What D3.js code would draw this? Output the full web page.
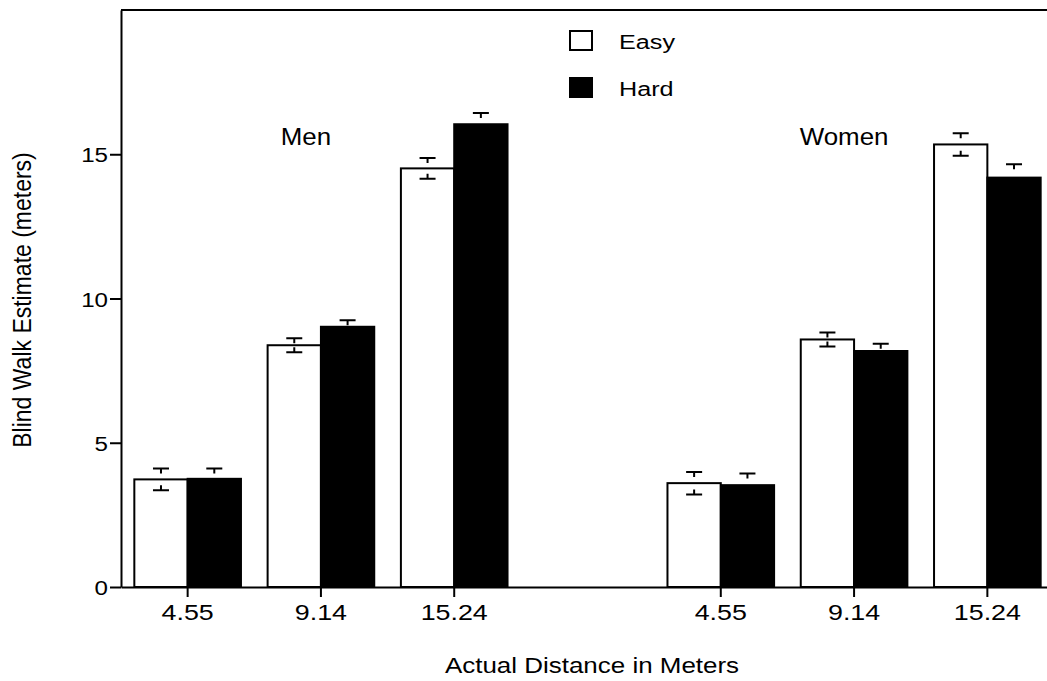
<!DOCTYPE html>
<html>
<head>
<meta charset="utf-8">
<script src="https://cdn.jsdelivr.net/npm/d3@7"></script>
<style>
body { margin: 0; background: #fff; }
svg { display: block; }
text { font-family: "Liberation Sans", Arial, Helvetica, sans-serif; fill: #000; }
</style>
</head>
<body>
<div id="chart"></div>
<script>
"use strict";

// data (men first, then women)
const groups = ["Men", "Women"];
const distances = ["4.55", "9.14", "15.24"];
const conditions = ["Easy", "Hard"];
const easyMeans  = [3.73, 8.38, 14.51, 3.60, 8.58, 15.34];
const easyErrors = [0.38, 0.24, 0.36, 0.39, 0.24, 0.39];
const hardMeans  = [3.75, 9.02, 16.04, 3.53, 8.18, 14.19];
const hardErrors = [0.36, 0.23, 0.39, 0.40, 0.25, 0.46];
const yTicks = [0, 5, 10, 15];

const margin = {
    top   : 10,
    right : 0,
    bottom: 94,
    left  : 121
};
const svgWidth = 1047;
const svgHeight = 681;
const height = svgHeight - margin.top - margin.bottom;
const width = 933; // plot runs past the right edge of the picture

const slotOf = i => i < 3 ? i : i + 1;   // empty slot between the groups
const rows = d3.range(easyMeans.length).map(i => ({
    slot    : slotOf(i),
    group   : groups[Math.floor(i / 3)],
    distance: distances[i % 3],
    Easy    : { mean: easyMeans[i], err: easyErrors[i] },
    Hard    : { mean: hardMeans[i], err: hardErrors[i] }
}));

const xScale = d3.scaleBand()
                 .domain(d3.range(7))
                 .range([0, width])
                 .paddingInner(0.2)
                 .paddingOuter(0.1);
const condScale = d3.scaleBand()
                    .domain(conditions)
                    .range([0, xScale.bandwidth()]);
const yScale = d3.scaleLinear()
                 .domain([0, 20])
                 .range([height, 0]);
const fill = { Easy: "#fff", Hard: "#000" };

const svg = d3.select("#chart").append("svg")
              .attr("width", svgWidth)
              .attr("height", svgHeight);
const plot = svg.append("g")
                .attr("transform", `translate(${margin.left}, ${margin.top})`);

// bars
const bars = rows.flatMap(r => conditions.map(c => ({
    x   : xScale(r.slot) + condScale(c),
    cond: c,
    mean: r[c].mean,
    err : r[c].err
})));

plot.selectAll("rect.bar")
    .data(bars)
    .join("rect")
    .attr("class", "bar")
    .attr("x", d => d.x)
    .attr("y", d => yScale(d.mean))
    .attr("width", condScale.bandwidth())
    .attr("height", d => yScale(0) - yScale(d.mean))
    .attr("fill", d => fill[d.cond])
    .attr("stroke", "#000")
    .attr("stroke-width", 2);

// error bars: little T marks above and below the mean
const capHalf = 8;
const stem = 5;
const caps = bars.flatMap(d => [
    { cx: d.x + condScale.bandwidth() / 2, y: yScale(d.mean + d.err), dir: 1 },
    { cx: d.x + condScale.bandwidth() / 2, y: yScale(d.mean - d.err), dir: -1 }
]);
plot.selectAll("path.err")
    .data(caps)
    .join("path")
    .attr("class", "err")
    .attr("d", d => `M${d.cx - capHalf},${d.y}H${d.cx + capHalf}M${d.cx},${d.y}V${d.y + d.dir * stem}`)
    .attr("fill", "none")
    .attr("stroke", "#000")
    .attr("stroke-width", 2);

// axes
const xAxis = plot.append("g")
                  .attr("transform", `translate(0, ${height})`)
                  .call(d3.axisBottom(xScale)
                          .tickValues(rows.map(r => r.slot))
                          .tickFormat(s => distances[s < 3 ? s : s - 4])
                          .tickSize(10)
                          .tickSizeOuter(0));
xAxis.selectAll("text")
     .attr("y", 0)
     .attr("dy", 0)
     .attr("transform", "translate(0, 33) scale(1.22, 1)")
     .style("font-size", "22px");

const yAxis = plot.append("g")
                  .call(d3.axisLeft(yScale)
                          .tickValues(yTicks)
                          .tickSize(11)
                          .tickSizeOuter(0));
yAxis.selectAll("text")
     .attr("x", 0)
     .attr("dy", "0.36em")
     .attr("transform", "translate(-13, 0) scale(1.15, 1)")
     .style("font-size", "21px");

svg.selectAll(".domain, .tick line")
   .attr("stroke", "#000")
   .attr("stroke-width", 2);
svg.selectAll(".tick text").attr("fill", "#000");

// top border of the frame
plot.append("line")
    .attr("x1", 0)
    .attr("x2", width)
    .attr("y1", 0)
    .attr("y2", 0)
    .attr("stroke", "#000")
    .attr("stroke-width", 2);

// group labels
const groupCenters = [xScale(1) + xScale.bandwidth() / 2 - 15,
                      xScale(5) + xScale.bandwidth() / 2 - 10];
plot.selectAll("text.group")
    .data(groups)
    .join("text")
    .attr("class", "group")
    .attr("text-anchor", "middle")
    .attr("transform", (d, i) => `translate(${groupCenters[i]}, ${yScale(15) - 9}) scale(1.08, 1)`)
    .style("font-size", "24px")
    .text(d => d);

// legend
const legend = svg.append("g")
                  .attr("transform", "translate(570, 31)");
const items = legend.selectAll("g")
                    .data(conditions)
                    .join("g")
                    .attr("transform", (d, i) => `translate(0, ${i * 47})`);
items.append("rect")
     .attr("width", 22)
     .attr("height", 19)
     .attr("fill", d => fill[d])
     .attr("stroke", "#000")
     .attr("stroke-width", 2);
items.append("text")
     .attr("transform", "translate(49, 18) scale(1.2, 1)")
     .style("font-size", "21px")
     .text(d => d);

// axis titles
svg.append("text")
   .attr("text-anchor", "middle")
   .attr("transform", "translate(592, 673) scale(1.18, 1)")
   .style("font-size", "22px")
   .text("Actual Distance in Meters");

svg.append("text")
   .attr("text-anchor", "middle")
   .attr("transform", "translate(31, 300) rotate(-90) scale(1, 1.12)")
   .style("font-size", "23px")
   .text("Blind Walk Estimate (meters)");
</script>
</body>
</html>
